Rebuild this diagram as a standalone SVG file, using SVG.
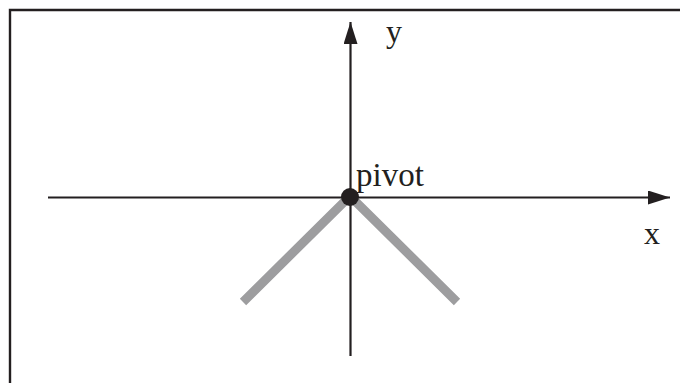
<svg xmlns="http://www.w3.org/2000/svg" width="680" height="383" viewBox="0 0 680 383">
  <style>
    .frame { fill: none; stroke: #231f20; stroke-width: 2.4; }
    .axis { stroke: #231f20; stroke-width: 2.2; fill: none; }
    .bar { stroke: #9d9d9f; stroke-width: 9; fill: none; }
    .lbl { font-family: "Liberation Serif", "Times New Roman", serif; fill: #231f20; }
  </style>
  <defs>
    <marker id="arrow" markerUnits="userSpaceOnUse" markerWidth="24" markerHeight="16" refX="22" refY="7" orient="auto">
      <path d="M0,0 L22,7 L0,14 Z" fill="#231f20"/>
    </marker>
  </defs>
  <rect width="680" height="383" fill="#ffffff"/>
  <path class="frame" d="M10,383 L10,10 L680,10"/>
  <g id="connectors">
    <line class="axis" x1="48" y1="197.5" x2="670" y2="197.5" marker-end="url(#arrow)"/>
    <line class="axis" x1="350.5" y1="356" x2="350.5" y2="22" marker-end="url(#arrow)"/>
  </g>
  <g id="pendulum">
    <polyline class="bar" points="243,302 350,196 457,302"/>
  </g>
  <g id="pivot">
    <circle cx="350" cy="197" r="9" fill="#231f20"/>
    <text class="lbl" x="356" y="186" font-size="33">pivot</text>
  </g>
  <g id="y-label">
    <text class="lbl" x="386" y="42" font-size="32">y</text>
  </g>
  <g id="x-label">
    <text class="lbl" x="644" y="244" font-size="32">x</text>
  </g>
</svg>
